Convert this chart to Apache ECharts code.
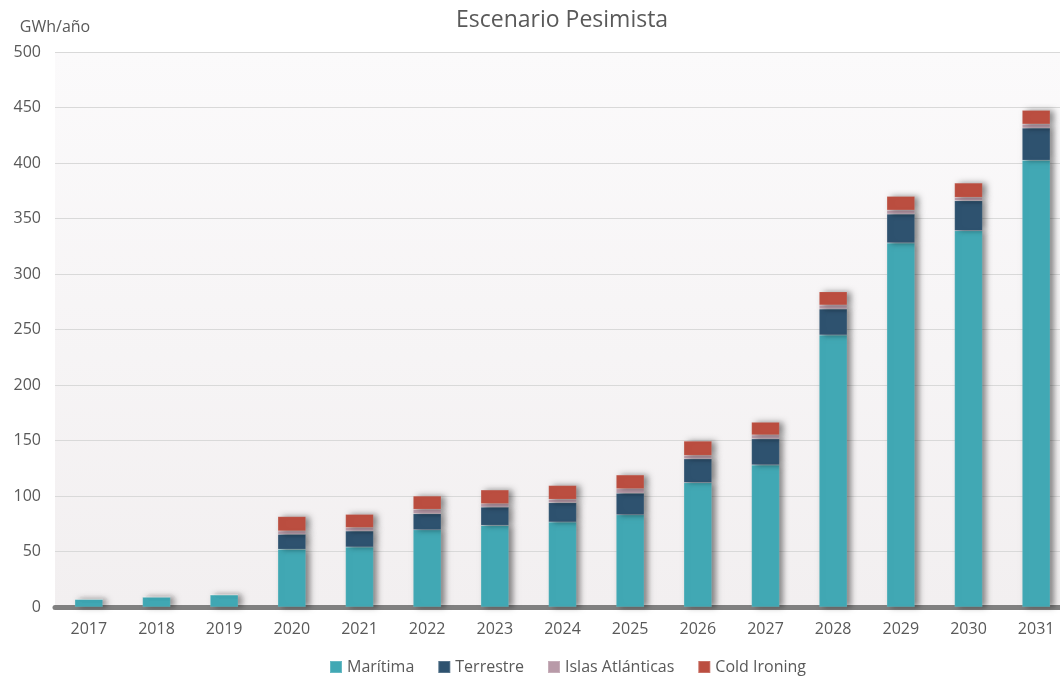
<!DOCTYPE html>
<html>
<head>
<meta charset="utf-8">
<script src="https://cdn.jsdelivr.net/npm/echarts@6/dist/echarts.min.js"></script>
<style>
  html, body { margin: 0; padding: 0; background: #fff; }
  #chart { width: 1060px; height: 679px; }
</style>
</head>
<body>
<div id="chart"></div>
<script>
const years = ['2017', '2018', '2019', '2020', '2021', '2022', '2023', '2024', '2025', '2026', '2027', '2028', '2029', '2030', '2031'];
const maritima = [7, 9, 11, 52, 54, 69.5, 73.5, 76.5, 83, 112, 128, 245, 328, 339, 402.5];
const terrestre = [0, 0, 0, 13.5, 14.5, 14.5, 16.5, 17.5, 19.5, 21.5, 23.5, 23.5, 26, 27, 29];
const islas = [0, 0, 0, 3, 3, 4, 3, 3, 4, 3, 3.5, 3.5, 3.5, 3, 3.5];
const coldIroning = [0, 0, 0, 13, 12, 12, 12.5, 12.5, 12.5, 13, 11.5, 12, 12.5, 13, 12.5];

const font = '"Open Sans", "Noto Sans", sans-serif';
const textColor = '#595959';

const barStyle = (color) => ({
  color: color,
  borderColor: 'rgba(255,255,255,0.2)',
  borderWidth: 0.5,
  shadowColor: 'rgba(0,0,0,0.45)',
  shadowBlur: 6,
  shadowOffsetX: 4,
  shadowOffsetY: 0,
});

const mkSeries = (name, data, color) => ({
  name,
  type: 'bar',
  stack: 'total',
  barWidth: 28,
  data,
  itemStyle: barStyle(color),
  emphasis: { disabled: true },
});

const chart = echarts.init(document.getElementById('chart'));
chart.setOption({
  animation: false,
  textStyle: { fontFamily: font },
  title: {
    text: 'Escenario Pesimista',
    left: 451,
    top: 4,
    textStyle: { fontFamily: font, fontSize: 23, fontWeight: 'normal', color: textColor },
  },
  legend: {
    top: 654,
    left: 324,
    icon: 'rect',
    itemWidth: 12,
    itemHeight: 12,
    itemGap: 23,
    textStyle: { fontFamily: font, fontSize: 16, color: textColor },
    data: ['Marítima', 'Terrestre', 'Islas Atlánticas', 'Cold Ironing'],
  },
  grid: {
    left: 55,
    width: 1015,
    top: 52,
    bottom: 72,
    outerBoundsMode: 'none',
    show: true,
    borderWidth: 0,
    backgroundColor: new echarts.graphic.LinearGradient(0, 0, 0, 1, [
      { offset: 0, color: '#fbfafb' },
      { offset: 1, color: '#f2eff0' },
    ]),
  },
  xAxis: {
    type: 'category',
    data: years,
    axisTick: { show: false },
    axisLine: { lineStyle: { color: '#808080', width: 5 } },
    axisLabel: { fontFamily: font, fontSize: 16, color: textColor, margin: 14 },
  },
  yAxis: {
    type: 'value',
    min: 0,
    max: 500,
    interval: 50,
    name: 'GWh/año',
    nameGap: 17,
    nameTextStyle: { fontFamily: font, fontSize: 16, color: textColor },
    axisLine: { show: false },
    axisTick: { show: false },
    axisLabel: { fontFamily: font, fontSize: 16, color: textColor, margin: 14 },
    splitLine: { lineStyle: { color: '#d9d9d9', width: 1 } },
  },
  series: [
    mkSeries('Marítima', maritima, '#41a8b4'),
    mkSeries('Terrestre', terrestre, '#2e526f'),
    mkSeries('Islas Atlánticas', islas, '#b89aa8'),
    mkSeries('Cold Ironing', coldIroning, '#bb4e40'),
  ],
});
</script>
</body>
</html>
